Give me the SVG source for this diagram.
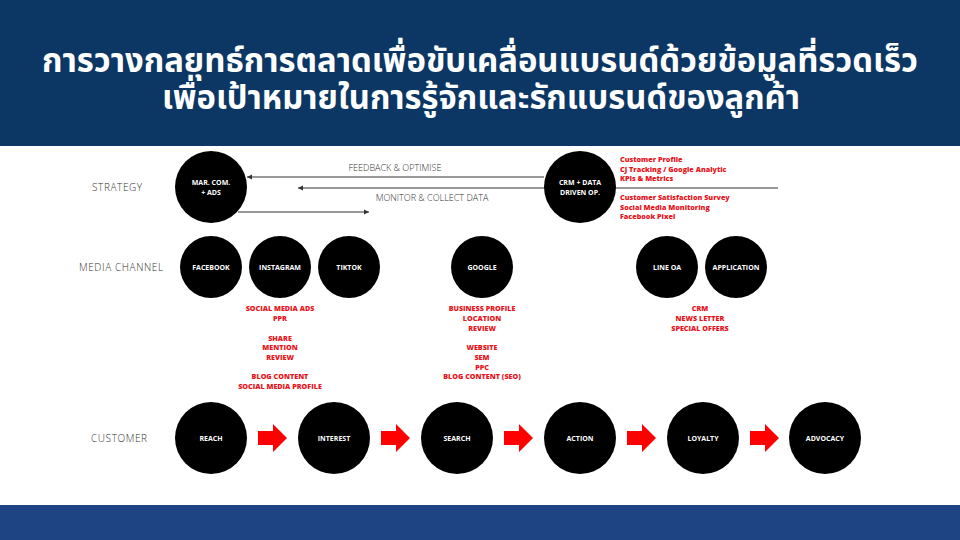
<svg xmlns="http://www.w3.org/2000/svg" width="960" height="540" viewBox="0 0 960 540">
<defs>
<style>
.title{font-family:"Noto Sans Thai","Noto Sans","Liberation Sans",sans-serif;font-weight:700;font-size:33px;fill:#fff;text-anchor:middle}
.row{font-family:"Open Sans","Liberation Sans",sans-serif;font-weight:300;font-size:10px;fill:#333;letter-spacing:0.6px}
.node circle{fill:#000}
.node text{font-family:"Open Sans","Liberation Sans",sans-serif;font-weight:700;font-size:7px;fill:#fff;text-anchor:middle}
.red{font-family:"Open Sans","Liberation Sans",sans-serif;font-weight:800;font-size:7.2px;fill:#e8141c}
.mid{text-anchor:middle}
.lbl{font-family:"Open Sans","Liberation Sans",sans-serif;font-weight:300;font-size:9px;fill:#333;text-anchor:middle}
.ln{stroke:#333;stroke-width:1;fill:none}
.blk{fill:#f00}
</style>
<marker id="ah" markerWidth="6" markerHeight="6" refX="5" refY="3" orient="auto" markerUnits="userSpaceOnUse">
<path d="M0,0.5 L5,3 L0,5.5 z" fill="#333"/>
</marker>
<path id="barrow" d="M0,-7 H15 V-14 L29,0 L15,14 V7 H0 z"/>
</defs>
<rect x="0" y="0" width="960" height="146" fill="#0c3764"/>
<rect x="0" y="146" width="960" height="359" fill="#fff"/>
<rect x="0" y="505" width="960" height="35" fill="#1e4483"/>
<text class="title" x="480" y="72" textLength="876" lengthAdjust="spacingAndGlyphs">การวางกลยุทธ์การตลาดเพื่อขับเคลื่อนแบรนด์ด้วยข้อมูลที่รวดเร็ว</text>
<text class="title" x="481" y="109" textLength="638" lengthAdjust="spacingAndGlyphs">เพื่อเป้าหมายในการรู้จักและรักแบรนด์ของลูกค้า</text>

<text class="row" x="92" y="191">STRATEGY</text>
<text class="row" x="79" y="271">MEDIA CHANNEL</text>
<text class="row" x="91" y="442">CUSTOMER</text>

<g id="connectors">
<line class="ln" x1="544" y1="177" x2="247" y2="177" marker-end="url(#ah)"/>
<line class="ln" x1="778" y1="188" x2="298" y2="188" marker-end="url(#ah)"/>
<line class="ln" x1="238" y1="212" x2="369" y2="212" marker-end="url(#ah)"/>
<text class="lbl" x="395" y="171">FEEDBACK &amp; OPTIMISE</text>
<text class="lbl" x="432" y="201">MONITOR &amp; COLLECT DATA</text>
<use href="#barrow" class="blk" x="258" y="438"/>
<use href="#barrow" class="blk" x="381" y="438"/>
<use href="#barrow" class="blk" x="504" y="438"/>
<use href="#barrow" class="blk" x="627" y="438"/>
<use href="#barrow" class="blk" x="750" y="438"/>
</g>

<g id="n-marcom" class="node"><circle cx="211" cy="187" r="36"/><text x="211" y="185">MAR. COM.</text><text x="211" y="195">+ ADS</text></g>
<g id="n-crm" class="node"><circle cx="580" cy="187" r="36"/><text x="580" y="185">CRM + DATA</text><text x="580" y="195">DRIVEN OP.</text></g>

<g id="crm-notes" class="red">
<text x="620" y="162">Customer Profile</text>
<text x="620" y="172">CJ Tracking / Google Analytic</text>
<text x="620" y="181">KPIs &amp; Metrics</text>
<text x="620" y="200">Customer Satisfaction Survey</text>
<text x="620" y="210">Social Media Monitoring</text>
<text x="620" y="219">Facebook Pixel</text>
</g>

<g id="n-facebook" class="node"><circle cx="211" cy="267" r="31"/><text x="211" y="270">FACEBOOK</text></g>
<g id="n-instagram" class="node"><circle cx="280" cy="267" r="31"/><text x="280" y="270">INSTAGRAM</text></g>
<g id="n-tiktok" class="node"><circle cx="349" cy="267" r="31"/><text x="349" y="270">TIKTOK</text></g>
<g id="n-google" class="node"><circle cx="482" cy="267" r="31"/><text x="482" y="270">GOOGLE</text></g>
<g id="n-lineoa" class="node"><circle cx="667" cy="267" r="31"/><text x="667" y="270">LINE OA</text></g>
<g id="n-application" class="node"><circle cx="736" cy="267" r="31"/><text x="736" y="270">APPLICATION</text></g>

<g id="social-notes" class="red mid">
<text x="280" y="311">SOCIAL MEDIA ADS</text>
<text x="280" y="321">PPR</text>
<text x="280" y="341">SHARE</text>
<text x="280" y="350">MENTION</text>
<text x="280" y="360">REVIEW</text>
<text x="280" y="379">BLOG CONTENT</text>
<text x="280" y="389">SOCIAL MEDIA PROFILE</text>
</g>
<g id="google-notes" class="red mid">
<text x="482" y="311">BUSINESS PROFILE</text>
<text x="482" y="321">LOCATION</text>
<text x="482" y="331">REVIEW</text>
<text x="482" y="350">WEBSITE</text>
<text x="482" y="360">SEM</text>
<text x="482" y="370">PPC</text>
<text x="482" y="379">BLOG CONTENT (SEO)</text>
</g>
<g id="line-notes" class="red mid">
<text x="700" y="311">CRM</text>
<text x="700" y="321">NEWS LETTER</text>
<text x="700" y="331">SPECIAL OFFERS</text>
</g>

<g id="n-reach" class="node"><circle cx="211" cy="438" r="36"/><text x="211" y="441">REACH</text></g>
<g id="n-interest" class="node"><circle cx="334" cy="438" r="36"/><text x="334" y="441">INTEREST</text></g>
<g id="n-search" class="node"><circle cx="457" cy="438" r="36"/><text x="457" y="441">SEARCH</text></g>
<g id="n-action" class="node"><circle cx="580" cy="438" r="36"/><text x="580" y="441">ACTION</text></g>
<g id="n-loyalty" class="node"><circle cx="703" cy="438" r="36"/><text x="703" y="441">LOYALTY</text></g>
<g id="n-advocacy" class="node"><circle cx="825" cy="438" r="36"/><text x="825" y="441">ADVOCACY</text></g>
</svg>
